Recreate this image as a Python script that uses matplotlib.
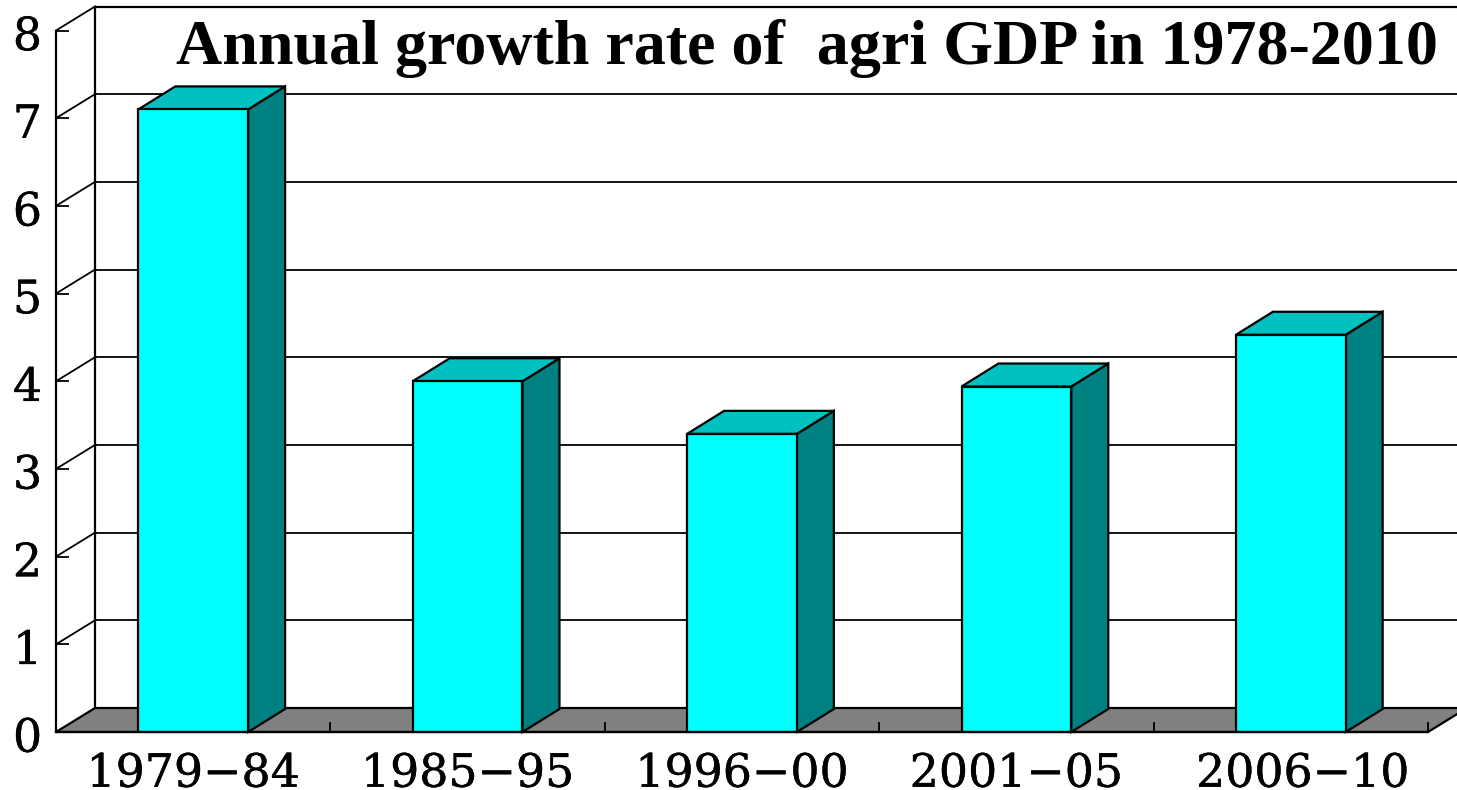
import matplotlib
matplotlib.use("Agg")
import matplotlib.pyplot as plt
import matplotlib.patheffects as pe
from matplotlib.patches import Polygon
from matplotlib.transforms import ScaledTranslation

periods = ["1979\u221284", "1985\u221295", "1996\u221200", "2001\u221205", "2006\u221210"]
growth = [7.1, 4.0, 3.4, 3.94, 4.53]
y_ticks = [0, 1, 2, 3, 4, 5, 6, 7, 8]
title = "Annual growth rate of  agri GDP in 1978-2010"

W, H = 1457, 790
fig = plt.figure(figsize=(W / 100, H / 100), dpi=100, facecolor="white")
# axes = the front plane of the fake 3d box
ax = fig.add_axes([56 / W, (H - 732) / H, (1428 - 56) / W, (732 - 30.5) / H])
ax.set_xlim(-0.5, 4.5)
ax.set_ylim(0, 8)
ax.patch.set_visible(False)

# pixel depth converted to data units
px_x = 5 / (1428 - 56)
px_y = 8 / (732 - 30.5)
wall_dx, wall_dy = 39 * px_x, 24 * px_y
bar_dx, bar_dy = 37 * px_x, 23 * px_y
lw = 1.6
thin = 1.3
x0, x1 = -0.5, 4.5

# floor
ax.add_patch(Polygon([(x0, 0), (x1, 0), (x1 + wall_dx, wall_dy), (x0 + wall_dx, wall_dy)],
                     closed=True, fc="#808080", ec="black", lw=lw, zorder=1, clip_on=False))

# back wall, grid lines run off the right edge
right = x1 + 29 * px_x
for t in y_ticks[1:]:
    ax.plot([x0, x0 + wall_dx], [t, t + wall_dy], color="black", lw=thin, zorder=1.5, clip_on=False)
    ax.plot([x0 + wall_dx, right], [t + wall_dy, t + wall_dy], color="black",
            lw=lw if t == 8 else thin, zorder=1.5, clip_on=False)
ax.plot([x0 + wall_dx, x0 + wall_dx], [wall_dy, 8 + wall_dy], color="black", lw=lw, zorder=1.5, clip_on=False)

# bars
xs = list(range(len(periods)))
bar_w = 0.4
ax.bar(xs, growth, width=bar_w, color="#00FFFF", edgecolor="black", linewidth=lw, zorder=4)
for x, v in zip(xs, growth):
    l, r = x - bar_w / 2, x + bar_w / 2
    ax.add_patch(Polygon([(r, 0), (r + bar_dx, bar_dy), (r + bar_dx, v + bar_dy), (r, v)],
                         closed=True, fc="#008080", ec="black", lw=lw, zorder=3, clip_on=False))
    ax.add_patch(Polygon([(l, v), (r, v), (r + bar_dx, v + bar_dy), (l + bar_dx, v + bar_dy)],
                         closed=True, fc="#00C0C0", ec="black", lw=lw, zorder=3, clip_on=False))

# axes and ticks
for s in ["top", "right"]:
    ax.spines[s].set_visible(False)
for s in ["left", "bottom"]:
    ax.spines[s].set_linewidth(lw)
    ax.spines[s].set_zorder(5)
ax.set_yticks(y_ticks)
ax.set_yticklabels([str(t) for t in y_ticks], fontfamily="DejaVu Serif", fontsize=33)
ax.tick_params(axis="y", direction="in", length=9.5, width=thin, pad=10)
ax.set_xticks(xs)
ax.set_xticklabels(periods, fontfamily="DejaVu Serif", fontsize=33)
ax.set_xticks([-0.5 + i for i in range(1, 6)], minor=True)
ax.tick_params(axis="x", which="major", length=0, pad=14)
ax.tick_params(axis="x", which="minor", direction="in", length=7, width=thin)
for t in ax.xaxis.get_minorticklines():
    t.set_zorder(2)

# labels look a bit heavier in the original
heavy = [pe.withStroke(linewidth=0.3, foreground="black")]
for lab in ax.get_yticklabels():
    lab.set_path_effects(heavy)
    lab.set_transform(lab.get_transform() + ScaledTranslation(0, -2 / 100, fig.dpi_scale_trans))
for lab in ax.get_xticklabels():
    lab.set_path_effects(heavy)
# last label sits right of its bar
last = ax.get_xticklabels()[-1]
last.set_transform(last.get_transform() + ScaledTranslation(12 / 100, 0, fig.dpi_scale_trans))

fig.text(807.5 / W, 1 - 49 / H, title, ha="center", va="center",
         fontfamily="Liberation Serif", fontweight="bold", fontsize=46.1)

fig.savefig("out.png", dpi=100)
